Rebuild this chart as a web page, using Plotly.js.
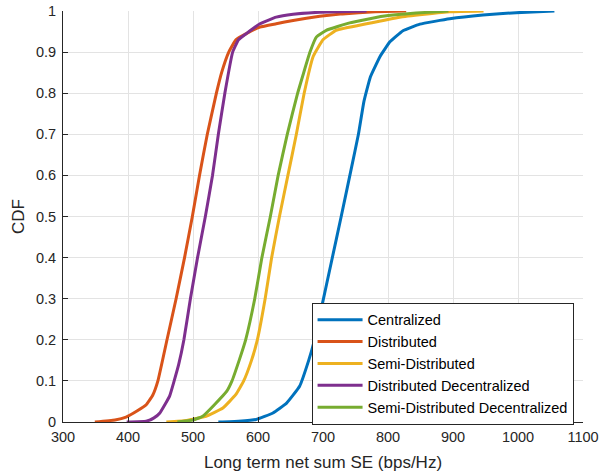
<!DOCTYPE html>
<html>
<head>
<meta charset="utf-8">
<script src="https://cdn.plot.ly/plotly-3.0.1.min.js"></script>
<style>html,body{margin:0;padding:0;background:#fff;}#chart{width:602px;height:472px;}</style>
</head>
<body>
<div id="chart"></div>
<script>
// Series names
const seriesNames = ["Centralized", "Distributed", "Semi-Distributed", "Distributed Decentralized", "Semi-Distributed Decentralized"];

// Centralized
const centralizedX = [539, 570, 597, 623, 644, 664, 678, 687, 698, 713, 728, 744, 754.5, 763, 773, 788, 803, 823, 849, 895, 946, 997, 1056];
const centralizedY = [0, 0.002, 0.006, 0.022, 0.046, 0.087, 0.15, 0.2, 0.28, 0.39, 0.5, 0.62, 0.7, 0.78, 0.84, 0.89, 0.925, 0.952, 0.968, 0.981, 0.99, 0.996, 1];

// Distributed
const distributedX = [349, 380, 397, 415, 428, 438, 446, 460, 474, 487, 499, 510, 522, 536, 544, 555, 566, 582, 603, 628, 654, 695, 730, 780, 828];
const distributedY = [0, 0.005, 0.012, 0.028, 0.042, 0.065, 0.1, 0.2, 0.3, 0.4, 0.5, 0.6, 0.7, 0.8, 0.85, 0.9, 0.93, 0.945, 0.961, 0.969, 0.977, 0.987, 0.993, 0.998, 1];

// Semi-Distributed
const semiDistX = [459, 490, 520, 546, 566, 578, 590, 599, 611, 621, 633, 646, 659, 671, 685, 700, 720, 767, 818, 895, 947];
const semiDistY = [0, 0.004, 0.014, 0.034, 0.067, 0.1, 0.15, 0.2, 0.3, 0.4, 0.5, 0.6, 0.7, 0.8, 0.89, 0.93, 0.953, 0.969, 0.985, 0.998, 1];

// Distributed Decentralized
const distDecX = [398, 428, 440, 449, 464, 471, 478, 486, 496, 507, 519, 530, 539, 549, 561, 570, 582, 603, 628, 654, 695, 767];
const distDecY = [0, 0.002, 0.01, 0.022, 0.063, 0.1, 0.14, 0.2, 0.3, 0.4, 0.5, 0.6, 0.7, 0.8, 0.9, 0.93, 0.945, 0.969, 0.985, 0.992, 0.997, 1];

// Semi-Distributed Decentralized
const semiDistDecX = [476, 500, 515, 533, 552, 560, 571, 581, 595, 606, 619, 631, 645, 661, 680, 690, 705, 741, 792, 843, 893];
const semiDistDecY = [0, 0.005, 0.014, 0.042, 0.075, 0.1, 0.15, 0.2, 0.3, 0.4, 0.5, 0.6, 0.7, 0.8, 0.9, 0.937, 0.953, 0.971, 0.987, 0.995, 1];

// Axis ticks
const xTicks = [300, 400, 500, 600, 700, 800, 900, 1000, 1100];
const yTicks = [0, 0.1, 0.2, 0.3, 0.4, 0.5, 0.6, 0.7, 0.8, 0.9, 1];
const yTickLabels = ["0", "0.1", "0.2", "0.3", "0.4", "0.5", "0.6", "0.7", "0.8", "0.9", "1"];

const colors = ["#0072BD", "#D95319", "#EDB120", "#7E2F8E", "#77AC30"];
const xs = [centralizedX, distributedX, semiDistX, distDecX, semiDistDecX];
const ys = [centralizedY, distributedY, semiDistY, distDecY, semiDistDecY];

const traces = seriesNames.map((n, i) => ({
  x: xs[i], y: ys[i], type: "scatter", mode: "lines", name: n,
  line: {color: colors[i], width: 3, shape: "spline", smoothing: 0.35}
}));

const font = "Liberation Sans, Arial, Helvetica, sans-serif";
const axisCol = "#262626";

const layout = {
  width: 602, height: 472,
  margin: {l: 63, r: 19, t: 11, b: 50, pad: 0},
  paper_bgcolor: "#fff", plot_bgcolor: "#fff",
  font: {family: font, size: 14.5, color: axisCol},
  showlegend: true,
  xaxis: {
    range: [300, 1100], tickvals: xTicks, ticktext: xTicks.map(String),
    ticks: "inside", ticklen: 5, tickcolor: axisCol, tickwidth: 1,
    showgrid: true, gridcolor: "#e3e3e3", gridwidth: 1,
    showline: true, linecolor: axisCol, linewidth: 1, mirror: false,
    zeroline: false, tickfont: {size: 14.5, color: axisCol, family: font},
    ticklabelstandoff: 2,
    title: {text: "Long term net sum SE (bps/Hz)", font: {size: 17, color: axisCol, family: font}, standoff: 12}
  },
  yaxis: {
    range: [0, 1], tickvals: yTicks, ticktext: yTickLabels,
    ticks: "inside", ticklen: 5, tickcolor: axisCol, tickwidth: 1,
    showgrid: true, gridcolor: "#e3e3e3", gridwidth: 1,
    showline: true, linecolor: axisCol, linewidth: 1, mirror: false,
    zeroline: false, tickfont: {size: 14.5, color: axisCol, family: font},
    ticklabelstandoff: 3,
    title: {text: "CDF", font: {size: 17, color: axisCol, family: font}, standoff: 6}
  },
  legend: {
    x: 0.478, y: 0.29, xanchor: "left", yanchor: "top",
    bgcolor: "#ffffff", bordercolor: axisCol, borderwidth: 1,
    font: {size: 14.5, color: "#000", family: font},
    tracegroupgap: 0, itemwidth: 45
  }
};

Plotly.newPlot("chart", traces, layout, {displayModeBar: false, staticPlot: true});
</script>
</body>
</html>
